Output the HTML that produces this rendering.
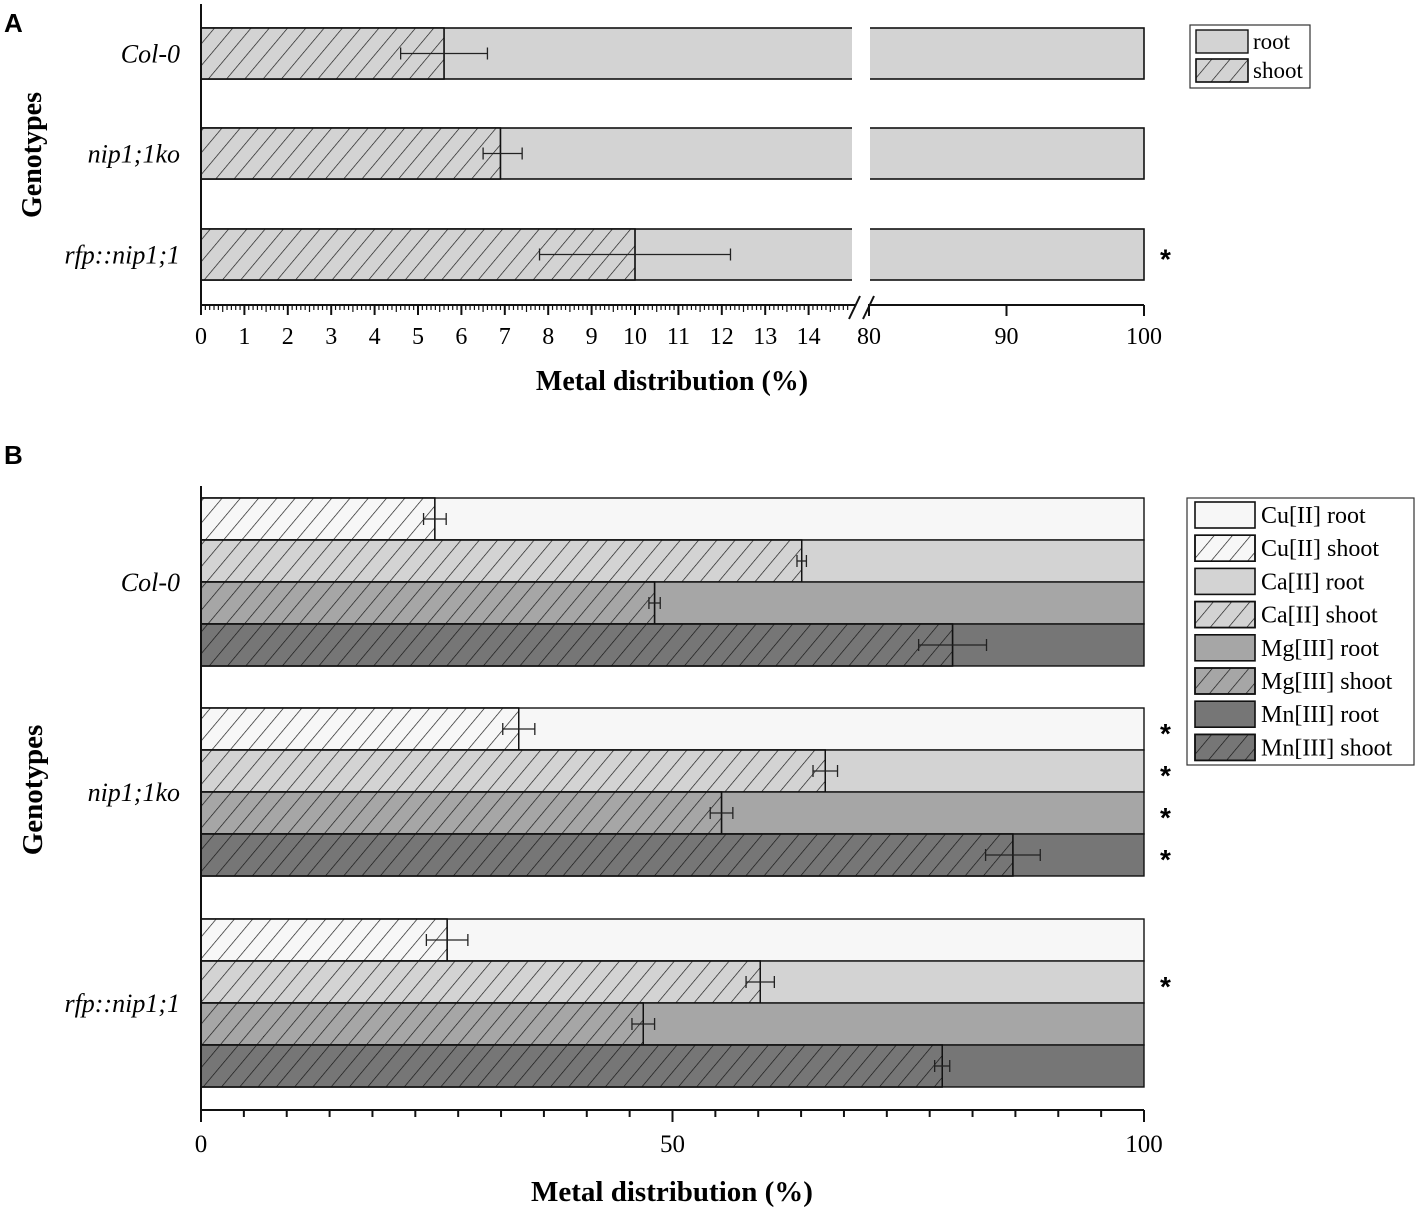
<!DOCTYPE html>
<html><head><meta charset="utf-8"><style>
html,body{margin:0;padding:0;background:#fff;}
svg{display:block;font-family:"Liberation Serif",serif;}
</style></head><body>
<svg id="chart" width="1417" height="1211" viewBox="0 0 1417 1211">
<defs>
<pattern id="hatch" patternUnits="userSpaceOnUse" width="14" height="14" patternTransform="rotate(40)">
<line x1="0" y1="0" x2="0" y2="14" stroke="#111" stroke-width="1.3"/>
</pattern>
</defs>
<g id="panelA"></g>
<g id="panelB"></g>
</svg>
<script>
// Panel A data
const genotypesA = ["Col-0", "nip1;1ko", "rfp::nip1;1"];
const shootA = [5.6, 6.9, 10.0];
const errLowA = [4.6, 6.5, 7.8];
const errHighA = [6.6, 7.4, 12.2];
const sigA = [false, false, true];
const ticksLeftA = [0,1,2,3,4,5,6,7,8,9,10,11,12,13,14];
const ticksRightA = [80, 90, 100];
// Panel B data
const genotypesB = ["Col-0", "nip1;1ko", "rfp::nip1;1"];
const metalsB = ["Cu[II]", "Ca[II]", "Mg[III]", "Mn[III]"];
const cuShoot = [24.8, 33.7, 26.1];
const caShoot = [63.7, 66.2, 59.3];
const mgShoot = [48.1, 55.2, 46.9];
const mnShoot = [79.7, 86.1, 78.6];
const cuErr = [1.2, 1.7, 2.2];
const caErr = [0.5, 1.3, 1.5];
const mgErr = [0.6, 1.2, 1.2];
const mnErr = [3.6, 2.9, 0.8];
const sigB = [[false,false,false,false],[true,true,true,true],[false,true,false,false]];
const ticksB = [0, 50, 100];

const NS = "http://www.w3.org/2000/svg";
function mk(parent, tag, attrs, text){
  const e = document.createElementNS(NS, tag);
  for (const k in attrs) e.setAttribute(k, attrs[k]);
  if (text !== undefined) e.textContent = text;
  parent.appendChild(e);
  return e;
}
const A = document.getElementById("panelA");
const B = document.getElementById("panelB");

// ---- Panel A ----
const xL = v => 201 + v * 43.4;
const xR = v => 869 + (v - 80) * 13.75;
const xA = v => v <= 15 ? xL(v) : xR(v);
const breakL = 853, breakR = 869;
const barTopA = [28, 128, 229], barH_A = 51;

let t = mk(A, "text", {x: 4, y: 32, "font-family": "Liberation Sans, sans-serif", "font-weight": "bold", "font-size": 26});
t.textContent = "A";



genotypesA.forEach((g, i) => {
  const y = barTopA[i];
  const grp = mk(A, "g", {});
  
  
  mk(grp, "rect", {x: xA(0), y: y, width: breakL - xA(0), height: barH_A, fill: "#d3d3d3", stroke: "#111", "stroke-width": 1.6});
  mk(grp, "rect", {x: breakR, y: y, width: xA(100) - breakR, height: barH_A, fill: "#d3d3d3", stroke: "#111", "stroke-width": 1.6});
  mk(grp, "rect", {x: breakL - 1, y: y - 2, width: breakR - breakL + 2, height: barH_A + 4, fill: "#fff"});
  const s = mk(grp, "rect", {x: xA(0), y: y, width: xA(shootA[i]) - xA(0), height: barH_A, fill: "#d3d3d3", stroke: "#111", "stroke-width": 1.4});
  
  
  mk(grp, "rect", {x: xA(0), y: y, width: xA(shootA[i]) - xA(0), height: barH_A, fill: "url(#hatch)", stroke: "#111", "stroke-width": 1.4});
  const ey = y + barH_A / 2;
  const eb = mk(grp, "g", {stroke: "#222", "stroke-width": 1.3});
  
  
  mk(eb, "line", {x1: xA(errLowA[i]), y1: ey, x2: xA(errHighA[i]), y2: ey});
  mk(eb, "line", {x1: xA(errLowA[i]), y1: ey - 6, x2: xA(errLowA[i]), y2: ey + 6});
  mk(eb, "line", {x1: xA(errHighA[i]), y1: ey - 6, x2: xA(errHighA[i]), y2: ey + 6});
  const lab = mk(A, "text", {x: 180, y: ey + 9, "text-anchor": "end", "font-style": "italic", "font-size": 26}, g);
  
  
  if (sigA[i]) {
    const st = mk(A, "text", {x: 1160, y: ey + 14, "font-family": "Liberation Sans, sans-serif", "font-size": 28, "font-weight": "bold"}, "*");
    
    
  }
});
const axA = mk(A, "g", {stroke: "#111", "stroke-width": 2});


mk(axA, "line", {x1: 201, y1: 4, x2: 201, y2: 306});
mk(axA, "line", {x1: 201, y1: 305, x2: 855, y2: 305});
mk(axA, "line", {x1: 868, y1: 305, x2: xA(100), y2: 305});
mk(axA, "line", {x1: 849, y1: 319, x2: 860, y2: 296});
mk(axA, "line", {x1: 863, y1: 319, x2: 874, y2: 296});
for (let k = 0; k <= 155; k++) {
  const vv = k / 10;
  const major = k % 10 === 0;
  const half = k % 5 === 0;
  if (xL(vv) > 850) break;
  mk(axA, "line", {x1: xL(vv), y1: 305, x2: xL(vv), y2: 305 + (major ? 10 : half ? 7 : 5), "stroke-width": major ? 2 : 1.2});
}
ticksLeftA.forEach(v => {
  const tl = mk(A, "text", {x: xL(v), y: 344, "text-anchor": "middle", "font-size": 24}, String(v));
  
  
});
ticksRightA.forEach(v => {
  mk(axA, "line", {x1: xR(v), y1: 305, x2: xR(v), y2: 316});
  const tl = mk(A, "text", {x: xR(v), y: 344, "text-anchor": "middle", "font-size": 24}, String(v));
  
  
});
t = mk(A, "text", {x: 672, y: 390, "text-anchor": "middle", "font-size": 28, "font-weight": "bold"}, "Metal distribution (%)");


t = mk(A, "text", {x: 0, y: 0, "text-anchor": "middle", "font-size": 28, "font-weight": "bold", transform: "translate(41,155) rotate(-90)"}, "Genotypes");


const lgA = mk(A, "g", {});


mk(lgA, "rect", {x: 1190, y: 25, width: 120, height: 63, fill: "#fff", stroke: "#333", "stroke-width": 1.2});
[["root", false], ["shoot", true]].forEach((e, i) => {
  const y = 30 + i * 29;
  const ge = mk(lgA, "g", {});
  
  
  mk(ge, "rect", {x: 1196, y: y, width: 52, height: 23, fill: "#d3d3d3", stroke: "#111", "stroke-width": 1.4});
  if (e[1]) mk(ge, "rect", {x: 1196, y: y, width: 52, height: 23, fill: "url(#hatch)", stroke: "#111", "stroke-width": 1.4});
  mk(ge, "text", {x: 1253, y: y + 19, "font-size": 23}, e[0]);
});

// ---- Panel B ----
const xB = v => 201 + v * 9.43;
const groupTopB = [498, 708, 919];
const barH_B = 42;
const colorsB = ["#f7f7f7", "#d3d3d3", "#a6a6a6", "#767676"];
const shootsB = [cuShoot, caShoot, mgShoot, mnShoot];
const errsB = [cuErr, caErr, mgErr, mnErr];

t = mk(B, "text", {x: 4, y: 464, "font-family": "Liberation Sans, sans-serif", "font-weight": "bold", "font-size": 26}, "B");



genotypesB.forEach((g, gi) => {
  metalsB.forEach((m, mi) => {
    const y = groupTopB[gi] + mi * barH_B;
    const grp = mk(B, "g", {});
    
    
    mk(grp, "rect", {x: xB(0), y: y, width: xB(100) - xB(0), height: barH_B, fill: colorsB[mi], stroke: "#111", "stroke-width": 1.4});
    const v = shootsB[mi][gi];
    mk(grp, "rect", {x: xB(0), y: y, width: xB(v) - xB(0), height: barH_B, fill: colorsB[mi], stroke: "#111", "stroke-width": 1.4});
    mk(grp, "rect", {x: xB(0), y: y, width: xB(v) - xB(0), height: barH_B, fill: "url(#hatch)", stroke: "#111", "stroke-width": 1.4});
    const e = errsB[mi][gi], ey = y + barH_B / 2;
    const eb = mk(grp, "g", {stroke: "#222", "stroke-width": 1.3});
    
    
    mk(eb, "line", {x1: xB(v - e), y1: ey, x2: xB(v + e), y2: ey});
    mk(eb, "line", {x1: xB(v - e), y1: ey - 6, x2: xB(v - e), y2: ey + 6});
    mk(eb, "line", {x1: xB(v + e), y1: ey - 6, x2: xB(v + e), y2: ey + 6});
    if (sigB[gi][mi]) {
      const st = mk(B, "text", {x: 1160, y: ey + 14, "font-family": "Liberation Sans, sans-serif", "font-size": 28, "font-weight": "bold"}, "*");
      
      
    }
  });
  const lab = mk(B, "text", {x: 180, y: groupTopB[gi] + 2 * barH_B + 9, "text-anchor": "end", "font-style": "italic", "font-size": 26}, g);
  
  
});
const axB = mk(B, "g", {stroke: "#111", "stroke-width": 2});


mk(axB, "line", {x1: 201, y1: 486, x2: 201, y2: 1111});
mk(axB, "line", {x1: 201, y1: 1110, x2: xB(100), y2: 1110});
for (let k = 0; k <= 22; k++) {
  const v = k * 50 / 11;
  const major = k % 11 === 0;
  mk(axB, "line", {x1: xB(v), y1: 1110, x2: xB(v), y2: 1110 + (major ? 12 : 7)});
}
ticksB.forEach(v => {
  const tl = mk(B, "text", {x: xB(v), y: 1152, "text-anchor": "middle", "font-size": 25}, String(v));
  
  
});
t = mk(B, "text", {x: 672, y: 1201, "text-anchor": "middle", "font-size": 29, "font-weight": "bold"}, "Metal distribution (%)");


t = mk(B, "text", {x: 0, y: 0, "text-anchor": "middle", "font-size": 29, "font-weight": "bold", transform: "translate(42,790) rotate(-90)"}, "Genotypes");


const lgB = mk(B, "g", {});


mk(lgB, "rect", {x: 1187, y: 498, width: 227, height: 267, fill: "#fff", stroke: "#333", "stroke-width": 1.2});
metalsB.forEach((m, mi) => {
  ["root", "shoot"].forEach((part, pi) => {
    const idx = mi * 2 + pi;
    const y = 502 + idx * 33.2;
    const ge = mk(lgB, "g", {});
    
    
    mk(ge, "rect", {x: 1195, y: y, width: 60, height: 26, fill: colorsB[mi], stroke: "#111", "stroke-width": 1.6});
    if (pi) mk(ge, "rect", {x: 1195, y: y, width: 60, height: 26, fill: "url(#hatch)", stroke: "#111", "stroke-width": 1.6});
    mk(ge, "text", {x: 1261, y: y + 21, "font-size": 24}, m + " " + part);
  });
});
</script>
</body></html>
